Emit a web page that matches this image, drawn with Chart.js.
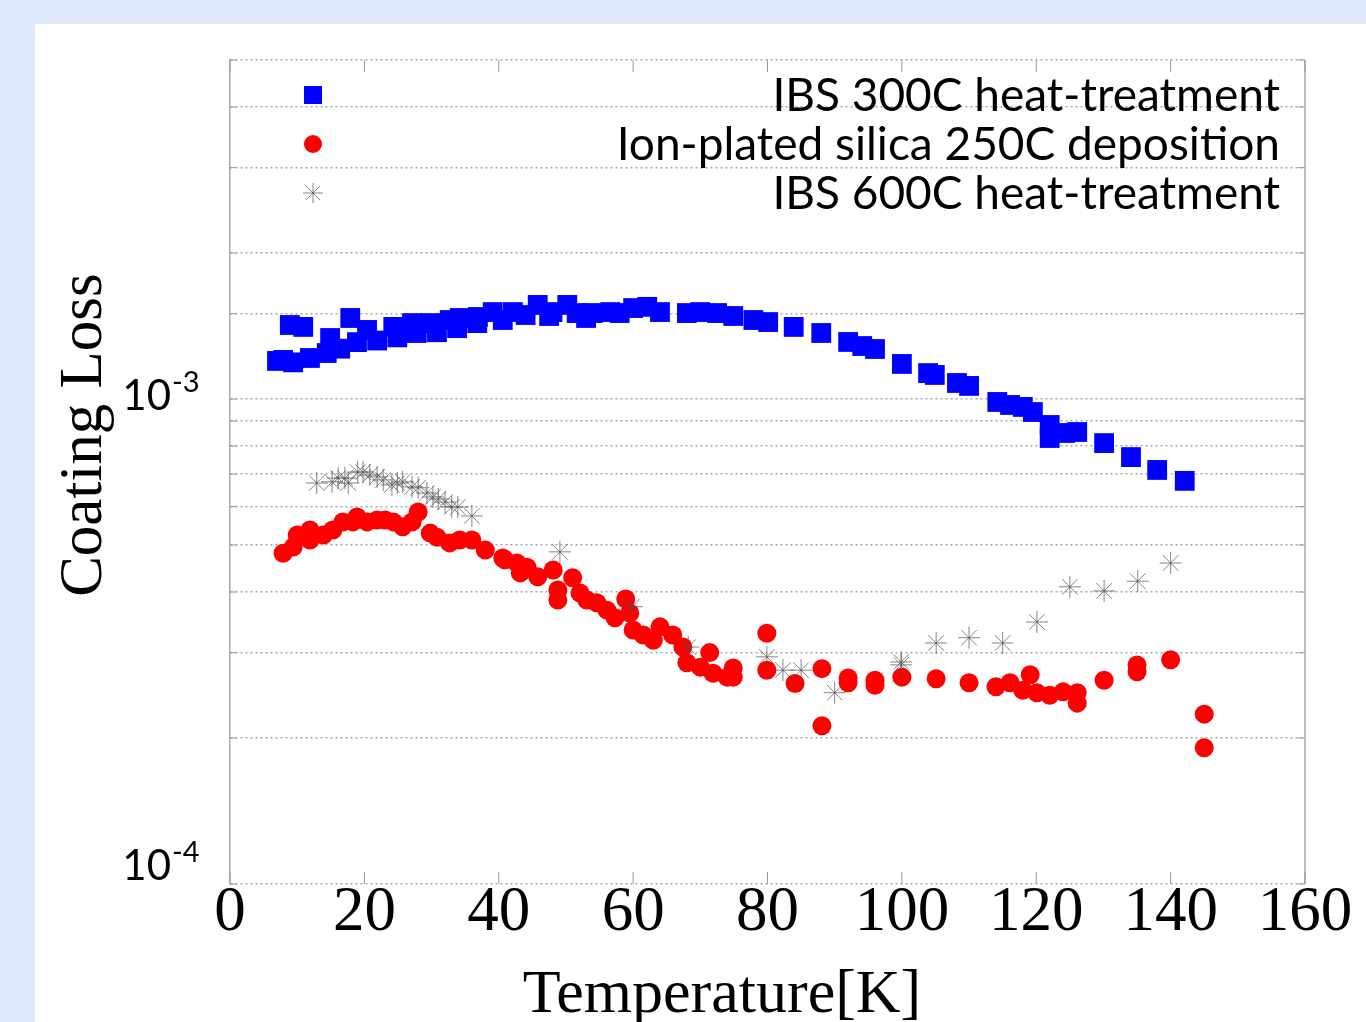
<!DOCTYPE html>
<html>
<head>
<meta charset="utf-8">
<script src="https://cdn.jsdelivr.net/npm/chart.js@4/dist/chart.umd.min.js"></script>
<style>
  html, body { margin: 0; padding: 0; background: #e0e9fc; width: 1366px; height: 1022px; overflow: hidden; }
  #panel { position: absolute; left: 35px; top: 24px; width: 1331px; height: 998px; background: #fff; }
</style>
</head>
<body>
<div id="panel"><canvas id="lossChart"></canvas></div>
<script>
// Temperature [K] and coating loss (x 1e-3)
var tempIbs300 = [7.0, 7.9, 8.9, 9.4, 10.9, 11.9, 14.4, 14.9, 16.4, 17.9, 18.9, 20.4, 21.9, 24.3, 24.9, 27.1, 27.8, 29.8, 30.8, 32.7,
  33.8, 34.2, 36.8, 36.9, 39.1, 40.6, 42.1, 44.0, 45.8, 47.5, 48.0, 50.2, 51.6, 53.0, 54.0, 56.6, 58.0, 60.0, 62.1, 64.0,
  68.0, 70.0, 72.5, 74.9, 77.9, 80.1, 83.9, 88.0, 92.0, 94.1, 96.0, 100.0, 103.9, 104.9, 108.2, 110.0, 114.2, 116.1, 118.0, 119.5,
  122.0, 122.0, 124.3, 126.1, 130.1, 134.1, 138.0, 142.1];
var lossIbs300 = [1.198, 1.204, 1.421, 1.19, 1.408, 1.215, 1.244, 1.336, 1.27, 1.469, 1.31, 1.388, 1.32, 1.408, 1.34, 1.434, 1.368, 1.434, 1.373, 1.455,
  1.40, 1.469, 1.434, 1.476, 1.511, 1.455, 1.511, 1.49, 1.563, 1.483, 1.511, 1.563, 1.504, 1.469, 1.504, 1.511, 1.504, 1.54, 1.549, 1.511,
  1.504, 1.511, 1.504, 1.483, 1.455, 1.441, 1.408, 1.368, 1.311, 1.286, 1.268, 1.181, 1.131, 1.121, 1.079, 1.064, 0.986, 0.972, 0.963, 0.940,
  0.884, 0.831, 0.851, 0.855, 0.811, 0.759, 0.714, 0.678];

var tempIonPlated = [7.9, 9.4, 10.0, 11.9, 11.9, 13.9, 15.3, 16.8, 18.3, 18.9, 20.4, 21.9, 23.1, 24.3, 25.7, 27.1, 28.0, 29.8, 30.8, 32.7,
  34.2, 36.0, 38.0, 40.6, 40.9, 42.7, 43.2, 44.2, 45.8, 48.1, 48.8, 48.8, 51.0, 52.1, 53.1, 54.6, 56.1, 57.3, 58.9, 59.5,
  60.0, 61.5, 63.0, 64.0, 65.9, 67.4, 68.0, 70.0, 71.4, 71.9, 74.0, 74.9, 74.9, 79.9, 79.9, 84.1, 88.1, 88.1, 92.0, 92.0,
  96.0, 96.0, 100.0, 105.1, 110.0, 114.0, 116.1, 118.0, 119.1, 120.1, 122.0, 124.0, 126.1, 126.1, 130.1, 135.0, 135.0, 140.0, 145.0, 145.0];
var lossIonPlated = [0.481, 0.495, 0.524, 0.537, 0.512, 0.524, 0.537, 0.558, 0.558, 0.571, 0.558, 0.563, 0.563, 0.558, 0.545, 0.558, 0.585, 0.529, 0.519, 0.505,
  0.512, 0.512, 0.488, 0.470, 0.466, 0.459, 0.438, 0.450, 0.430, 0.444, 0.385, 0.404, 0.428, 0.398, 0.385, 0.380, 0.367, 0.354, 0.387, 0.362,
  0.334, 0.326, 0.318, 0.339, 0.326, 0.308, 0.286, 0.280, 0.300, 0.272, 0.267, 0.279, 0.267, 0.329, 0.276, 0.259, 0.278, 0.212, 0.266, 0.260,
  0.263, 0.257, 0.267, 0.265, 0.260, 0.255, 0.260, 0.251, 0.270, 0.248, 0.245, 0.249, 0.248, 0.236, 0.263, 0.283, 0.274, 0.290, 0.224, 0.191];

var tempIbs600 = [12.9, 15.2, 16.1, 17.1, 17.6, 19.0, 19.8, 20.8, 21.9, 22.8, 24.1, 24.9, 25.7, 27.1, 28.0, 29.3, 30.2, 31.0, 32.0, 33.0,
  33.9, 36.0, 49.1, 59.8, 68.2, 79.9, 82.3, 85.0, 90.0, 99.9, 99.9, 105.1, 110.0, 115.0, 120.1, 125.0, 130.1, 135.1, 140.0];
var lossIbs600 = [0.671, 0.675, 0.687, 0.687, 0.671, 0.707, 0.707, 0.697, 0.691, 0.681, 0.665, 0.671, 0.675, 0.659, 0.656, 0.640, 0.628, 0.622, 0.613, 0.599,
  0.599, 0.574, 0.484, 0.373, 0.308, 0.294, 0.276, 0.276, 0.248, 0.287, 0.283, 0.314, 0.322, 0.314, 0.347, 0.410, 0.402, 0.421, 0.459];

var seriesNames = ["IBS 300C heat-treatment", "Ion-plated silica 250C deposition", "IBS 600C heat-treatment"];
var yLabelDecades = [-4, -3];

const toPoints = (xs, ys) => xs.map((t, i) => ({ x: t, y: ys[i] * 1e-3 }));

const decor = {
  id: 'decor',
  afterDraw(chart) {
    const { ctx, chartArea: a, scales } = chart;
    const x = scales.x, y = scales.y;
    ctx.save();

    // right frame line
    ctx.strokeStyle = '#a8a8a8';
    ctx.lineWidth = 1.5;
    ctx.beginPath();
    ctx.moveTo(a.right, a.top);
    ctx.lineTo(a.right, a.bottom);
    ctx.stroke();

    // inward tick marks on x (bottom and top)
    ctx.strokeStyle = '#9a9a9a';
    ctx.lineWidth = 1;
    x.ticks.forEach(t => {
      const px = x.getPixelForValue(t.value);
      ctx.beginPath();
      ctx.moveTo(px, a.bottom); ctx.lineTo(px, a.bottom - 12);
      ctx.moveTo(px, a.top); ctx.lineTo(px, a.top + 12);
      ctx.stroke();
    });
    // short inward ticks on y
    y.ticks.forEach(t => {
      const py = y.getPixelForValue(t.value);
      ctx.beginPath();
      ctx.moveTo(a.left, py); ctx.lineTo(a.left + 7, py);
      ctx.moveTo(a.right, py); ctx.lineTo(a.right - 7, py);
      ctx.stroke();
    });

    // y tick labels as 10^n
    ctx.fillStyle = '#000';
    yLabelDecades.forEach(n => {
      const py = y.getPixelForValue(Math.pow(10, n));
      const base = n === -4 ? py - 4 : py + 11;
      ctx.font = '42px Lato';
      ctx.textAlign = 'right';
      ctx.textBaseline = 'alphabetic';
      ctx.fillText('10', 136, base);
      ctx.font = '29px Lato';
      ctx.textAlign = 'left';
      ctx.fillText('-' + (-n), 137, base - 18);
    });

    // axis titles
    ctx.font = '61px "Liberation Serif"';
    ctx.textAlign = 'center';
    ctx.textBaseline = 'middle';
    ctx.save();
    ctx.translate(50, 411);
    ctx.rotate(-Math.PI / 2);
    ctx.fillText('Coating Loss', 0, 0);
    ctx.restore();
    ctx.font = '62px "Liberation Serif"';
    ctx.textBaseline = 'alphabetic';
    ctx.fillText('Temperature[K]', 687, 988);

    // legend: marker on the left, text right-aligned
    const rows = [71, 120, 169];
    const mx = 278, tx = 1245;
    ctx.font = '46px Lato';
    ctx.textAlign = 'right';
    ctx.textBaseline = 'middle';
    rows.forEach((ry, i) => {
      ctx.fillStyle = '#000';
      ctx.fillText(seriesNames[i], tx, ry + 1);
      if (i === 0) {
        ctx.fillStyle = '#0000ff';
        ctx.fillRect(mx - 9, ry - 9, 18, 18);
      } else if (i === 1) {
        ctx.fillStyle = '#ff0000';
        ctx.beginPath(); ctx.arc(mx, ry, 9, 0, Math.PI * 2); ctx.fill();
      } else {
        ctx.strokeStyle = 'rgba(80,80,80,0.7)';
        ctx.lineWidth = 1;
        const r = 10, d = r * Math.SQRT1_2;
        ctx.beginPath();
        ctx.moveTo(mx - r, ry); ctx.lineTo(mx + r, ry);
        ctx.moveTo(mx, ry - r); ctx.lineTo(mx, ry + r);
        ctx.moveTo(mx - d, ry - d); ctx.lineTo(mx + d, ry + d);
        ctx.moveTo(mx - d, ry + d); ctx.lineTo(mx + d, ry - d);
        ctx.stroke();
      }
    });
    ctx.restore();
  }
};

new Chart(document.getElementById('lossChart').getContext('2d'), {
  type: 'scatter',
  data: {
    datasets: [{
      label: seriesNames[0],
      data: toPoints(tempIbs300, lossIbs300),
      pointStyle: 'rect',
      pointRadius: 14,
      backgroundColor: '#0000ff',
      borderColor: '#0000ff',
      borderWidth: 0,
      order: 2
    }, {
      label: seriesNames[1],
      data: toPoints(tempIonPlated, lossIonPlated),
      pointStyle: 'circle',
      pointRadius: 9.5,
      backgroundColor: '#ff0000',
      borderColor: '#ff0000',
      borderWidth: 0,
      order: 1
    }, {
      label: seriesNames[2],
      data: toPoints(tempIbs600, lossIbs600),
      pointStyle: 'star',
      pointRadius: 11,
      backgroundColor: 'rgba(0,0,0,0)',
      borderColor: 'rgba(80,80,80,0.7)',
      borderWidth: 1,
      order: 0
    }]
  },
  options: {
    responsive: true,
    maintainAspectRatio: false,
    animation: false,
    layout: { padding: { top: 36, right: 61, left: 0, bottom: 0 } },
    plugins: { legend: { display: false }, tooltip: { enabled: false } },
    scales: {
      x: {
        type: 'linear',
        min: 0,
        max: 160,
        ticks: { stepSize: 20, padding: -8, color: '#000', font: { family: 'Liberation Serif', size: 63 } },
        grid: { display: false, drawTicks: false },
        border: { display: false },
        afterFit(s) { s.height = 138; s.paddingLeft = 0; s.paddingRight = 0; }
      },
      y: {
        type: 'logarithmic',
        min: 1e-4,
        max: 5e-3,
        ticks: { display: false },
        grid: { color: 'rgba(0,0,0,0.35)', lineWidth: 1.5, drawTicks: false },
        border: { display: true, color: '#a8a8a8', width: 1.5, dash: [2, 3] },
        afterFit(s) { s.width = 195; s.paddingTop = 0; s.paddingBottom = 0; }
      }
    }
  },
  plugins: [decor]
});
</script>
</body>
</html>
